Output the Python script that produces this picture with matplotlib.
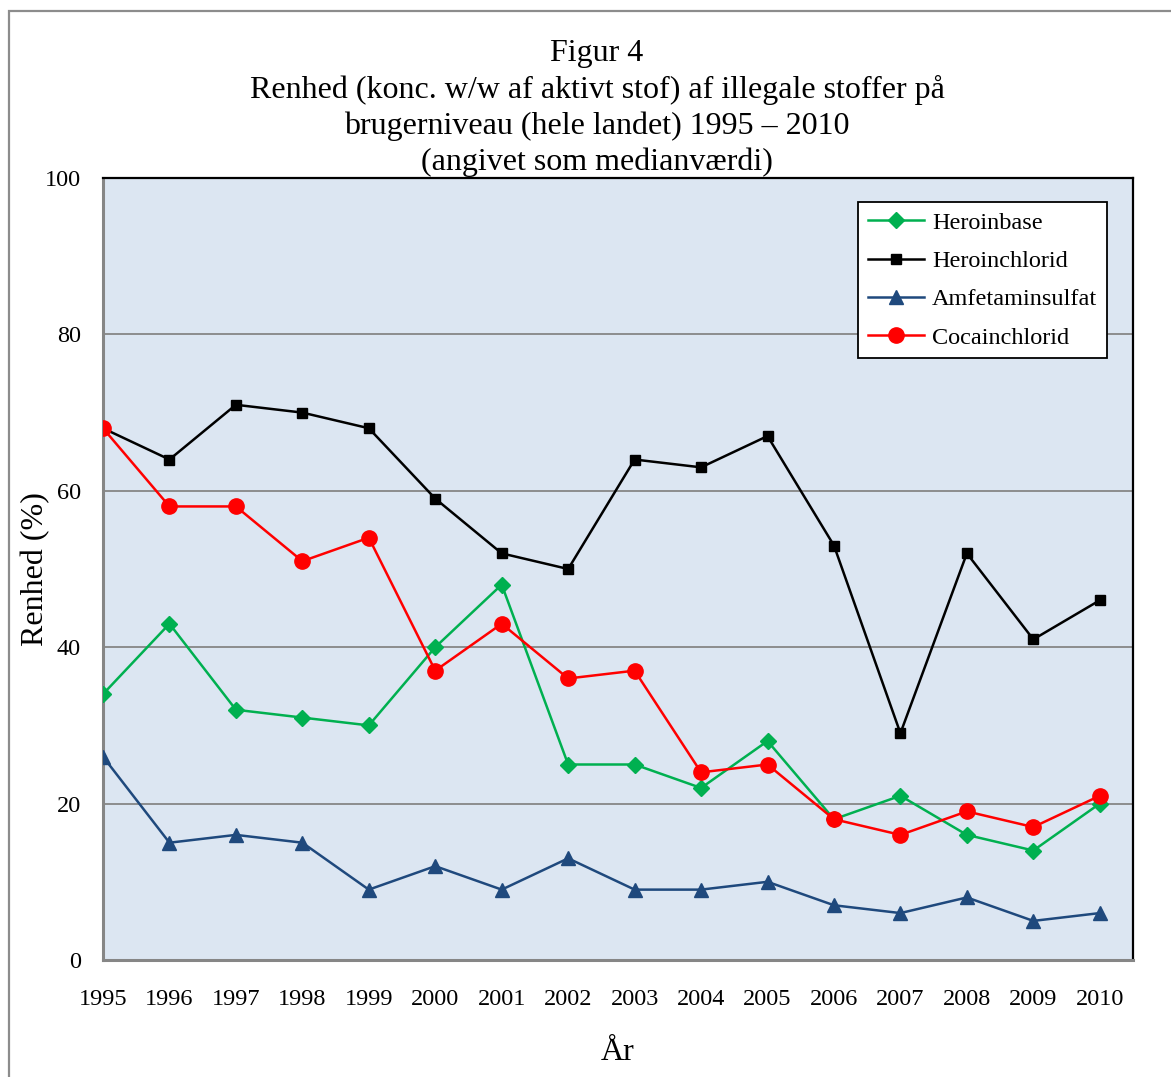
import matplotlib
matplotlib.use("Agg")
import matplotlib.pyplot as plt
from matplotlib.patches import Rectangle

plt.rcParams["font.family"] = ["Liberation Serif", "DejaVu Serif"]

years = [str(y) for y in range(1995, 2011)]
heroinbase = [34, 43, 32, 31, 30, 40, 48, 25, 25, 22, 28, 18, 21, 16, 14, 20]
heroinchlorid = [68, 64, 71, 70, 68, 59, 52, 50, 64, 63, 67, 53, 29, 52, 41, 46]
amfetaminsulfat = [26, 15, 16, 15, 9, 12, 9, 13, 9, 9, 10, 7, 6, 8, 5, 6]
cocainchlorid = [68, 58, 58, 51, 54, 37, 43, 36, 37, 24, 25, 18, 16, 19, 17, 21]
y_ticks = [0, 20, 40, 60, 80, 100]

fig = plt.figure(figsize=(11.71, 10.77), dpi=100)
fig.patch.set_facecolor("white")

# outer frame around the chart
fig.add_artist(Rectangle((9 / 1171, -0.2), 1.5, 1.2 - 11 / 1077,
                         transform=fig.transFigure, fill=False,
                         edgecolor="#8c8c8c", linewidth=1.6, clip_on=False))

ax = fig.add_axes([103 / 1171, 117 / 1077, 1030 / 1171, 782 / 1077])
ax.set_facecolor("#DCE6F2")

x = list(range(len(years)))
lw = 1.8
ax.plot(x, heroinbase, color="#00B050", lw=lw, marker="D", ms=8.5,
        label="Heroinbase", zorder=4)
ax.plot(x, heroinchlorid, color="black", lw=lw, marker="s", ms=6.5,
        label="Heroinchlorid", zorder=4)
ax.plot(x, amfetaminsulfat, color="#1F497D", lw=lw, marker="^", ms=10,
        label="Amfetaminsulfat", zorder=4)
ax.plot(x, cocainchlorid, color="#FF0000", lw=lw, marker="o", ms=11,
        label="Cocainchlorid", zorder=4)

ax.set_xlim(0, 15.5)
ax.set_ylim(0, 100)
ax.set_yticks(y_ticks)
ax.set_xticks(x)
ax.set_xticklabels(years)
ax.tick_params(axis="both", length=0, labelsize=17.5)
ax.tick_params(axis="y", pad=16)
ax.tick_params(axis="x", pad=21)
ax.yaxis.grid(True, color="#868686", lw=1.3)
ax.set_axisbelow(True)

for side in ("left", "bottom"):
    ax.spines[side].set_color("#868686")
    ax.spines[side].set_linewidth(2.2)
for side in ("top", "right"):
    ax.spines[side].set_color("black")
    ax.spines[side].set_linewidth(1.6)

ax.set_ylabel("Renhed (%)", fontsize=23)
ax.yaxis.set_label_coords(-53 / 1030, 0.5)
ax.set_xlabel("År", fontsize=23)
ax.xaxis.set_label_coords(0.5, -78 / 782)

fig.text(597 / 1171, 1 - 108 / 1077,
         "Figur 4\nRenhed (konc. w/w af aktivt stof) af illegale stoffer på\n"
         "brugerniveau (hele landet) 1995 – 2010\n(angivet som medianværdi)",
         ha="center", va="center", fontsize=23, linespacing=1.28)

leg = ax.legend(loc="upper right", bbox_to_anchor=(1004 / 1030, 1 - 24 / 782),
                fontsize=17.5, frameon=True, fancybox=False, edgecolor="black",
                framealpha=1, handlelength=2.3, handletextpad=0.35,
                labelspacing=0.67, borderpad=0.4, borderaxespad=0)
leg.get_frame().set_linewidth(1.3)

fig.savefig("out.png", dpi=100, facecolor="white")
